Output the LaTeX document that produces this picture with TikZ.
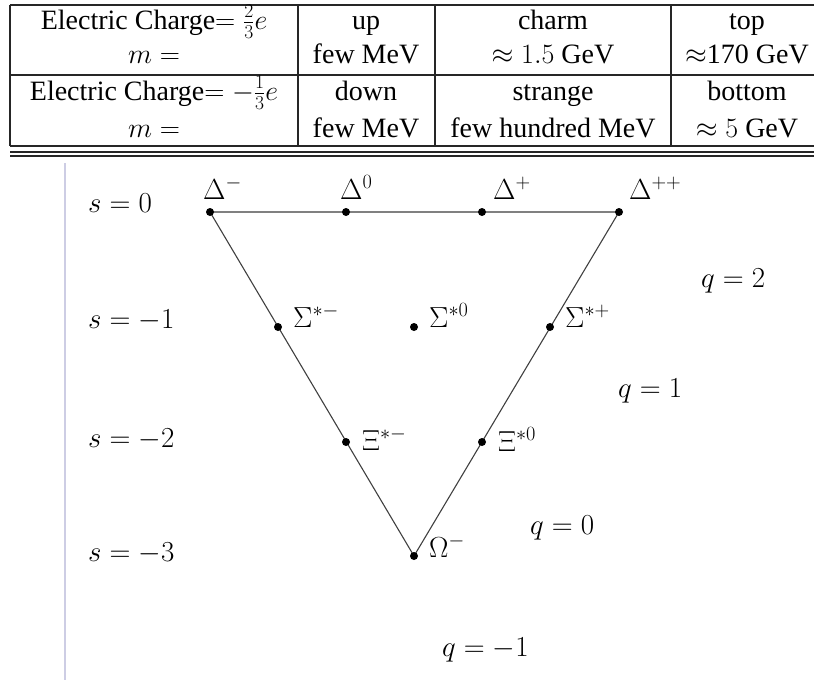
\RequirePackage{fix-cm}
\documentclass[tikz,border=0pt]{standalone}
\usepackage[no-math]{fontspec}
\newfontfamily\tabf{Liberation Serif}
\definecolor{sidebar}{RGB}{205,205,228}
\begin{document}
\begin{tikzpicture}[x=1pt,y=-1pt,
  tabline/.style={line width=1.1pt, draw=black!85},
  cell/.style={anchor=base, inner sep=0pt, font=\tabf\fontsize{28}{34}\selectfont},
  lbl/.style={anchor=base west, inner sep=0pt, font=\fontsize{29}{35}\selectfont},
  dot/.style={circle, fill=black, inner sep=0pt, minimum size=8pt},
  sideedge/.style={line width=1.1pt, draw=black!75},
  topedge/.style={line width=2.6pt, draw=black!50}]
\useasboundingbox (0,0) rectangle (814,680);
% ---------- table ----------
\draw[tabline] (10,5) -- (814,5);
\draw[tabline] (10,75) -- (814,75);
\draw[tabline] (10,146) -- (814,146);
\draw[tabline] (10,152) -- (814,152);
\draw[tabline] (10,156) -- (814,156);
\foreach \x in {10,298,435,671} \draw[tabline] (\x,5) -- (\x,146);
\node[cell] (t11) at (154,29) {Electric Charge$=\frac{2}{3}e$};
\node[cell] (t12) at (154,63) {$m=$};
\node[cell] (t21) at (154,100) {Electric Charge$=-\frac{1}{3}e$};
\node[cell] (t22) at (154,137) {$m=$};
\node[cell] (up) at (366,29) {up};
\node[cell] (upm) at (366,63) {few MeV};
\node[cell] (down) at (366,100) {down};
\node[cell] (downm) at (366,137) {few MeV};
\node[cell] (charm) at (553,29) {charm};
\node[cell] (charmm) at (553,63) {$\approx 1.5$ GeV};
\node[cell] (strange) at (553,100) {strange};
\node[cell] (strangem) at (553,137) {few hundred MeV};
\node[cell] (top) at (747,29) {top};
\node[cell] (topm) at (747,63) {$\approx$170 GeV};
\node[cell] (bottom) at (747,100) {bottom};
\node[cell] (bottomm) at (747,137) {$\approx 5$ GeV};
% ---------- side rule ----------
\draw[sidebar, line width=1.5pt] (65,163) -- (65,680);
% ---------- decuplet ----------
\coordinate (Dm) at (210,212);
\coordinate (D0) at (346,212);
\coordinate (Dp) at (482,212);
\coordinate (Dpp) at (619,212);
\coordinate (Sm) at (278,327);
\coordinate (S0) at (414,327);
\coordinate (Sp) at (550,327);
\coordinate (Xm) at (346,442);
\coordinate (X0) at (482,442);
\coordinate (Om) at (414,556);
\draw[topedge] (Dm) -- (Dpp);
\draw[sideedge] (Dm) -- (Om);
\draw[sideedge] (Dpp) -- (Om);
\foreach \p in {Dm,D0,Dp,Dpp,Sm,S0,Sp,Xm,X0,Om} \node[dot] (dot\p) at (\p) {};
\node[lbl] (lDm) at (203,199) {$\Delta^-$};
\node[lbl] (lD0) at (340,199) {$\Delta^0$};
\node[lbl] (lDp) at (493,199) {$\Delta^+$};
\node[lbl] (lDpp) at (629,199) {$\Delta^{++}$};
\node[lbl] (lSm) at (293,327) {$\Sigma^{*-}$};
\node[lbl] (lS0) at (429,327) {$\Sigma^{*0}$};
\node[lbl] (lSp) at (565,327) {$\Sigma^{*+}$};
\node[lbl] (lXm) at (362,450) {$\Xi^{*-}$};
\node[lbl] (lX0) at (498,451) {$\Xi^{*0}$};
\node[lbl] (lOm) at (429,557) {$\Omega^-$};
% strangeness
\node[lbl] (s0) at (88,212) {$s=0$};
\node[lbl] (s1) at (88,328) {$s=-1$};
\node[lbl] (s2) at (88,447) {$s=-2$};
\node[lbl] (s3) at (88,561) {$s=-3$};
% charge
\node[lbl] (q2) at (701,287) {$q=2$};
\node[lbl] (q1) at (618,397) {$q=1$};
\node[lbl] (q0) at (530,534) {$q=0$};
\node[lbl] (qm1) at (442,656) {$q=-1$};
\end{tikzpicture}
\end{document}
